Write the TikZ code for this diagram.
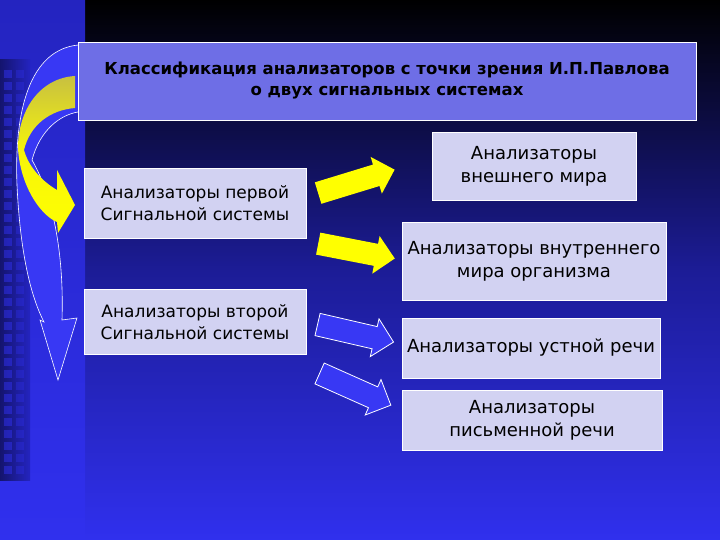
\documentclass[tikz,border=0pt]{standalone}
\usepackage{fontspec}
\setmainfont{DejaVu Sans}
\usetikzlibrary{shapes.arrows}
\definecolor{bgblue}{HTML}{3030EE}
\definecolor{stripe}{HTML}{2424C0}
\definecolor{titlefill}{HTML}{6E6EE6}
\definecolor{boxfill}{HTML}{D2D2F2}
\definecolor{ylw}{HTML}{FFFF00}
\definecolor{olive}{HTML}{C8C040}
\definecolor{arrblue}{HTML}{3838F4}
\tikzset{
  tbox/.style={draw=white, line width=0.8pt, fill=boxfill, align=center, font=\fontsize{18}{23}\selectfont, inner sep=0pt},
  yarrow/.style={single arrow, fill=ylw, single arrow head extend=8pt, inner xsep=0pt, inner ysep=11pt, text height=0pt, text depth=0pt},
  barrow/.style={single arrow, fill=arrblue, draw=white, line width=0.8pt, single arrow head extend=8pt, inner xsep=0pt, inner ysep=11pt, text height=0pt, text depth=0pt}
}
\begin{document}
\begin{tikzpicture}[x=1pt,y=-1pt]
\useasboundingbox (0,0) rectangle (720,540);
% background
\shade[top color=black, bottom color=bgblue, middle color={rgb,255:red,28;green,28;blue,150}] (85,0) rectangle (720,540);
\shade[top color=stripe, bottom color=bgblue] (0,0) rectangle (85,540);
\shade[left color={rgb,255:red,20;green,20;blue,110}, right color=stripe] (0,60) rectangle (30,480);
\foreach \yy in {70,82,...,470} {\fill[bgblue, opacity=0.5] (4,\yy) rectangle (12,\yy+8); \fill[bgblue, opacity=0.35] (16,\yy) rectangle (24,\yy+8);}
% blue curved arrow
\filldraw[fill=arrblue, draw=white, line width=0.6pt]
 (78,45) .. controls (30,50) and (14,110) .. (17,185) .. controls (20,250) and (30,295) .. (44,322)
 -- (40,320) -- (58,380) -- (77,318) -- (62,320) .. controls (64,260) and (55,200) .. (32,160)
 .. controls (40,130) and (60,115) .. (78,112);
% yellow curved arrow
\shade[top color=olive, bottom color=ylw, middle color=ylw!85!olive]
 (75,76) .. controls (40,78) and (18,110) .. (18,148) .. controls (20,185) and (40,215) .. (57,222)
 -- (58,233) -- (75,205) -- (57,170) -- (57,190) .. controls (40,180) and (28,165) .. (24,150)
 .. controls (30,125) and (50,110) .. (75,108) -- cycle;
% boxes
\node[tbox, fill=titlefill, minimum width=618pt, minimum height=78pt, font=\bfseries\fontsize{16.5}{21}\selectfont] (title) at (387,81)
 {Классификация анализаторов с точки зрения И.П.Павлова\\о двух сигнальных системах};
\node[tbox, minimum width=222pt, minimum height=70pt, font=\fontsize{17}{22}\selectfont] (s1) at (195,203) {Анализаторы первой\\Сигнальной системы};
\node[tbox, minimum width=222pt, minimum height=65pt, font=\fontsize{17}{22}\selectfont] (s2) at (195,322) {Анализаторы второй\\Сигнальной системы};
\node[tbox, minimum width=204pt, minimum height=68pt] (e1) at (534,166) {Анализаторы\\внешнего мира};
\node[tbox, minimum width=264pt, minimum height=78pt] (e2) at (534,261) {Анализаторы внутреннего\\мира организма};
\node[tbox, minimum width=258pt, minimum height=60pt] (e3) at (531,348) {Анализаторы устной речи};
\node[tbox, minimum width=260pt, minimum height=60pt] (e4) at (532,420) {Анализаторы\\письменной речи};
% straight arrows
\node[yarrow, minimum height=80pt, rotate=17] (a1) at (351,183) {};
\node[yarrow, minimum height=78pt, rotate=-11] (a2) at (351,250) {};
\node[barrow, minimum height=78pt, rotate=-13] (a3) at (350,332) {};
\node[barrow, minimum height=78pt, rotate=-24] (a4) at (350,387) {};
\end{tikzpicture}
\end{document}
